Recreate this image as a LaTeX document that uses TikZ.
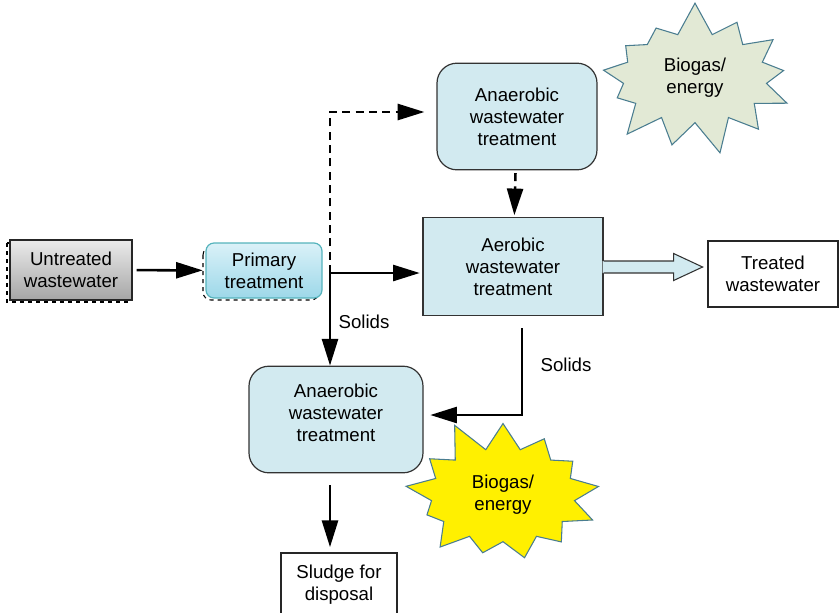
\documentclass[tikz,border=0pt]{standalone}
\usepackage{fontspec}
\setmainfont{Liberation Sans}
\usetikzlibrary{arrows.meta,shapes.symbols,calc}
\definecolor{tankblue}{HTML}{D2EAF0}
\definecolor{primtop}{HTML}{DAF1F8}
\definecolor{primbot}{HTML}{9DD8E9}
\definecolor{primedge}{HTML}{55B3BC}
\definecolor{burstedge}{HTML}{4A7D90}
\definecolor{burstgreen}{HTML}{E2E9D5}
\definecolor{burstyellow}{HTML}{FFF000}

\begin{document}
\begin{tikzpicture}[x=0.75pt,y=-0.75pt,
	every node/.style={font=\fontsize{14}{16.5}\selectfont, align=center, inner sep=0pt},
	tank/.style={draw=black!80, line width=0.9pt, fill=tankblue, rounded corners=15pt, minimum width=120pt, minimum height=80pt},
	plainbox/.style={draw=black!85, line width=0.8pt, fill=white},
	burst/.style={starburst, starburst points=13, starburst point height=25pt, draw=burstedge, line width=0.8pt},
	flow/.style={line width=1.9pt, -{Triangle[length=20pt,width=12pt]}},
	dashflow/.style={flow, dash pattern=on 6pt off 4pt},
	]
	\useasboundingbox (0,0) rectangle (839,612);
	\draw[dashed, line width=0.8pt] (7,243) rectangle (129,302);
	\draw[dashed, line width=0.8pt, rounded corners=6pt] (203,247) rectangle (319,300);
	\node[draw=black!85, line width=0.9pt, top color=black!8, bottom color=black!35, minimum width=91.5pt, minimum height=45pt] (untreated) at (71,270) {Untreated\\wastewater};
	\node[draw=primedge, line width=0.9pt, top color=primtop, bottom color=primbot, rounded corners=6pt, minimum width=87pt, minimum height=41.25pt] (primary) at (264,270.5) {Primary\\treatment};
	\node[tank] (anaerobtop) at (517,116.5) {Anaerobic\\wastewater\\treatment};
	\node[tank, rounded corners=0pt, minimum width=135pt, minimum height=74pt] (aerobic) at (513,266.5) {Aerobic\\wastewater\\treatment};
	\node[plainbox, minimum width=97.5pt, minimum height=49.5pt] (treated) at (773,274) {Treated\\wastewater};
	\node[tank, minimum width=130.5pt] (anaerobbot) at (336,419.5) {Anaerobic\\wastewater\\treatment\rule[-10.5pt]{0pt}{10.5pt}};
	\node[plainbox, minimum width=87pt, minimum height=48pt] (sludge) at (339,585) {Sludge for\\disposal};
	\node[burst, fill=burstgreen, minimum width=158pt, minimum height=117pt, random starburst=7] (biogastop) at (695,78) {Biogas/\\energy};
	\node[burst, fill=burstyellow, minimum width=158pt, minimum height=120pt, random starburst=11] (biogasbot) at (503,495) {Biogas/\\energy};
	\coordinate (split) at (330,273);
	\coordinate (bend) at (330,112);
	\coordinate (drop) at (522,415);
	\node (solidsa) at (364,322) {Solids};
	\node (solidsb) at (566,365) {Solids};
	\fill[tankblue] ($(aerobic.east)+(-1,-5.5)$) -- ($(aerobic.east)+(70,-5.5)$) -- ($(aerobic.east)+(70,-13)$) -- ($(aerobic.east)+(99,0.5)$) -- ($(aerobic.east)+(70,14)$) -- ($(aerobic.east)+(70,6.5)$) -- ($(aerobic.east)+(-1,6.5)$) -- cycle;
	\draw[black!80, line width=0.8pt] ($(aerobic.east)+(0,-5.5)$) -- ($(aerobic.east)+(70,-5.5)$) -- ($(aerobic.east)+(70,-13)$) -- ($(aerobic.east)+(99,0.5)$) -- ($(aerobic.east)+(70,14)$) -- ($(aerobic.east)+(70,6.5)$) -- ($(aerobic.east)+(0,6.5)$);
	\draw[flow, shorten <=3pt, shorten >=2pt] (untreated) -- (primary);
	\draw[dashflow, shorten >=9pt] (split) -- (bend) -- (bend -| anaerobtop.west);
	\draw[flow, shorten >=2pt] (split) -- (split -| aerobic.west);
	\draw[flow] (split) -- (split |- anaerobbot.north);
	\draw[dashflow, shorten <=2pt, shorten >=1pt] (anaerobtop) -- (aerobic);
	\draw[flow, shorten >=5pt] ([yshift=-9pt]drop |- aerobic.south) -- (drop) -- (anaerobbot.east |- drop);
	\draw[flow, shorten <=9pt, shorten >=4pt] (anaerobbot.south -| split) -- (sludge.north -| split);
\end{tikzpicture}
\end{document}
